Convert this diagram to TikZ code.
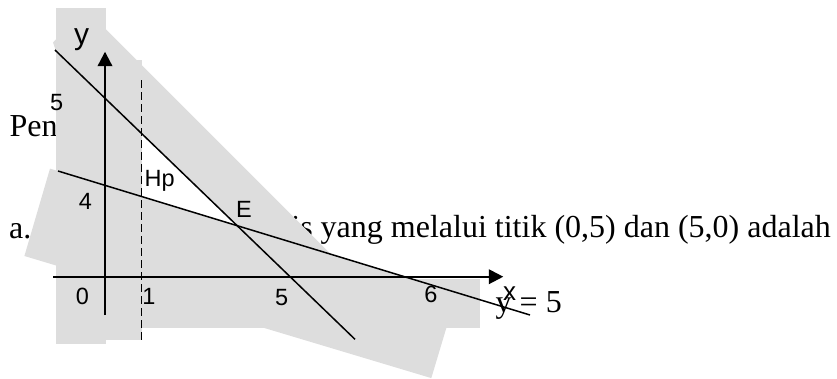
\documentclass[tikz,border=0pt]{standalone}
\usepackage{fontspec}
\setmainfont{Liberation Serif}
\newfontfamily\labelfont{Liberation Sans}
\usetikzlibrary{arrows.meta, calc}
\definecolor{shadegray}{RGB}{221,221,221}

\begin{document}
\begin{tikzpicture}[
    x=1pt, y=-1pt,
    bodytext/.style={
        font=\fontsize{32}{38}\selectfont,
        inner sep=0pt
    },
    axislabel/.style={
        font=\labelfont\fontsize{23.5}{27}\selectfont,
        inner sep=0pt
    },
    shadebox/.style={
        fill=shadegray,
        draw=none
    },
    axis/.style={
        line width=2.2pt,
        -{Triangle[length=14.5pt,width=14.5pt]}
    },
    graphline/.style={
        line width=1.5pt
    },
    boundline/.style={
        line width=1.5pt,
        dash pattern=on 7.5pt off 4.5pt
    }
]
\useasboundingbox (0,0) rectangle (837,378);

% ------------------------------------------------------------
% running text, partly hidden by the shading
% ------------------------------------------------------------
\node[bodytext, anchor=base west] (pen) at (9.5,136) {Pen};
\node[bodytext, anchor=base west] (parta) at (9,238) {a.};
\node[bodytext, anchor=base east] (parttext) at (831,237.5)
    {is yang melalui titik (0,5) dan (5,0) adalah};
\node[bodytext, anchor=base west] (eqtail) at (495.5,312) {y = 5};

% ------------------------------------------------------------
% shaded regions
% ------------------------------------------------------------
\fill[shadebox] (56,8) rectangle (106,344.3);
\fill[shadebox] (106,60) rectangle (141.7,340);
\fill[shadebox] (100,279.3) rectangle (480,328.3);
% tilted box under the line through (0,4)
\fill[shadebox] (50,168.6) -- (456.9,292.7) -- (431.3,378.1) -- (24.4,256) -- cycle;
% tilted box above the line through (0,5)
\fill[shadebox] (53,42.5) -- (86,9.3) -- (390,313.3) -- (355,339.3) -- (56,51) -- cycle;

% ------------------------------------------------------------
% axes
% ------------------------------------------------------------
\coordinate (ybot) at (105,315);
\coordinate (ytop) at (105,51.7);
\coordinate (xleft) at (53.3,276.7);
\coordinate (xright) at (503.3,276.7);
\draw[axis] (ybot) -- (ytop);
\draw[axis] (xleft) -- (xright);

% lines
\coordinate (fivestart) at (55,50);
\coordinate (fiveend) at (355,339.3);
\coordinate (fourstart) at (58,171);
\coordinate (fourend) at (530,315);
\draw[graphline] (fivestart) -- (fiveend);
\draw[graphline] (fourstart) -- (fourend);

% x = 1
\coordinate (onetop) at (141.7,80);
\coordinate (onebot) at (141.7,340);
\draw[boundline] (onetop) -- (onebot);

% ------------------------------------------------------------
% labels
% ------------------------------------------------------------
\node[axislabel, font=\labelfont\fontsize{30}{34}\selectfont] (lbly) at (81.5,40) {y};
\node[axislabel, font=\labelfont\fontsize{26}{30}\selectfont] (lblx) at (509.5,293.7) {x};
\node[axislabel] (lblfivey) at (56.7,102.5) {5};
\node[axislabel] (lblfour) at (85.5,201) {4};
\node[axislabel] (lblzero) at (82.5,296) {0};
\node[axislabel] (lblone) at (149,296) {1};
\node[axislabel] (lblfivex) at (281.7,297.3) {5};
\node[axislabel] (lblsix) at (431,294) {6};
\node[axislabel, anchor=base west] (hp) at (144.5,186) {Hp};
\node[axislabel, anchor=base west] (ept) at (236,217.5) {E};

\end{tikzpicture}
\end{document}
